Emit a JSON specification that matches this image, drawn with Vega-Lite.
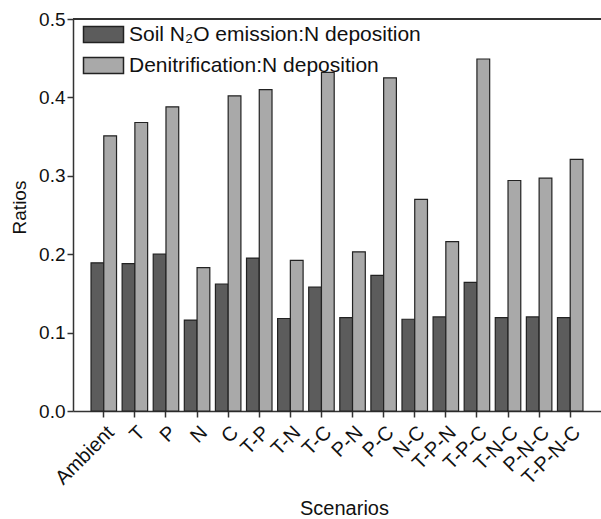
{
  "$schema": "https://vega.github.io/schema/vega-lite/v6.json",
  "width": 528,
  "height": 392,
  "autosize": {"type": "none"},
  "padding": {"left": 73, "top": 19, "right": 0, "bottom": 108},
  "background": "white",
  "config": {
    "font": "Liberation Sans",
    "view": {"stroke": null},
    "axis": {"grid": false, "domainColor": "#333", "domainWidth": 1.5, "tickColor": "#333", "tickWidth": 1.5, "tickSize": 6, "labelColor": "#111", "titleColor": "#111", "labelFontSize": 18, "titleFontSize": 20, "titleFontWeight": "normal", "labelFont": "Liberation Sans", "titleFont": "Liberation Sans"}
  },
  "data": {"values": [
    {"scenario": "Ambient", "series": "Soil N₂O emission:N deposition", "value": 0.189},
    {"scenario": "Ambient", "series": "Denitrification:N deposition", "value": 0.351},
    {"scenario": "T", "series": "Soil N₂O emission:N deposition", "value": 0.188},
    {"scenario": "T", "series": "Denitrification:N deposition", "value": 0.368},
    {"scenario": "P", "series": "Soil N₂O emission:N deposition", "value": 0.200},
    {"scenario": "P", "series": "Denitrification:N deposition", "value": 0.388},
    {"scenario": "N", "series": "Soil N₂O emission:N deposition", "value": 0.116},
    {"scenario": "N", "series": "Denitrification:N deposition", "value": 0.183},
    {"scenario": "C", "series": "Soil N₂O emission:N deposition", "value": 0.162},
    {"scenario": "C", "series": "Denitrification:N deposition", "value": 0.402},
    {"scenario": "T-P", "series": "Soil N₂O emission:N deposition", "value": 0.195},
    {"scenario": "T-P", "series": "Denitrification:N deposition", "value": 0.410},
    {"scenario": "T-N", "series": "Soil N₂O emission:N deposition", "value": 0.118},
    {"scenario": "T-N", "series": "Denitrification:N deposition", "value": 0.192},
    {"scenario": "T-C", "series": "Soil N₂O emission:N deposition", "value": 0.158},
    {"scenario": "T-C", "series": "Denitrification:N deposition", "value": 0.432},
    {"scenario": "P-N", "series": "Soil N₂O emission:N deposition", "value": 0.119},
    {"scenario": "P-N", "series": "Denitrification:N deposition", "value": 0.203},
    {"scenario": "P-C", "series": "Soil N₂O emission:N deposition", "value": 0.173},
    {"scenario": "P-C", "series": "Denitrification:N deposition", "value": 0.425},
    {"scenario": "N-C", "series": "Soil N₂O emission:N deposition", "value": 0.117},
    {"scenario": "N-C", "series": "Denitrification:N deposition", "value": 0.270},
    {"scenario": "T-P-N", "series": "Soil N₂O emission:N deposition", "value": 0.120},
    {"scenario": "T-P-N", "series": "Denitrification:N deposition", "value": 0.216},
    {"scenario": "T-P-C", "series": "Soil N₂O emission:N deposition", "value": 0.164},
    {"scenario": "T-P-C", "series": "Denitrification:N deposition", "value": 0.449},
    {"scenario": "T-N-C", "series": "Soil N₂O emission:N deposition", "value": 0.119},
    {"scenario": "T-N-C", "series": "Denitrification:N deposition", "value": 0.294},
    {"scenario": "P-N-C", "series": "Soil N₂O emission:N deposition", "value": 0.120},
    {"scenario": "P-N-C", "series": "Denitrification:N deposition", "value": 0.297},
    {"scenario": "T-P-N-C", "series": "Soil N₂O emission:N deposition", "value": 0.119},
    {"scenario": "T-P-N-C", "series": "Denitrification:N deposition", "value": 0.321}
  ]},
  "layer": [
    {
      "mark": {"type": "bar", "stroke": "#222", "strokeWidth": 1.2},
      "encoding": {
        "x": {
          "field": "scenario", "type": "nominal", "sort": null,
          "scale": {"paddingInner": 0.18, "paddingOuter": 0.58},
          "axis": {"labelAngle": -45, "labelPadding": 5, "labelFontSize": 20, "title": "Scenarios", "titleX": 271, "titleY": 103, "titleBaseline": "alphabetic", "titleAnchor": "middle", "titleAlign": "center"}
        },
        "xOffset": {"field": "series", "type": "nominal", "sort": null, "scale": {"paddingInner": 0, "paddingOuter": 0}},
        "y": {
          "field": "value", "type": "quantitative",
          "scale": {"domain": [0, 0.5], "nice": false},
          "axis": {"values": [0, 0.1, 0.2, 0.3, 0.4, 0.5], "format": ".1f", "labelPadding": 2, "labelFontSize": 19, "title": "Ratios", "titleFontSize": 19, "titleX": -48, "titleY": 188, "titleAngle": -90, "titleBaseline": "alphabetic", "titleAlign": "center"}
        },
        "fill": {
          "field": "series", "type": "nominal", "sort": null,
          "scale": {"domain": ["Soil N₂O emission:N deposition", "Denitrification:N deposition"], "range": ["#5c5c5c", "#a9a9a9"]},
          "legend": {"title": null, "orient": "none", "legendX": 20, "legendY": 5, "padding": 0, "symbolType": "M-2.5,-1H2.5V1H-2.5Z", "symbolSize": 256, "symbolStrokeColor": "#222", "symbolStrokeWidth": 1.5, "symbolOpacity": 1, "labelFontSize": 21, "labelLimit": 500, "labelColor": "#111", "labelOffset": 15, "rowPadding": 8, "labelFont": "Liberation Sans"}
        }
      }
    },
    {
      "mark": {"type": "rule", "stroke": "#333", "strokeWidth": 1.5},
      "encoding": {"y": {"datum": 0.5}}
    }
  ]
}
